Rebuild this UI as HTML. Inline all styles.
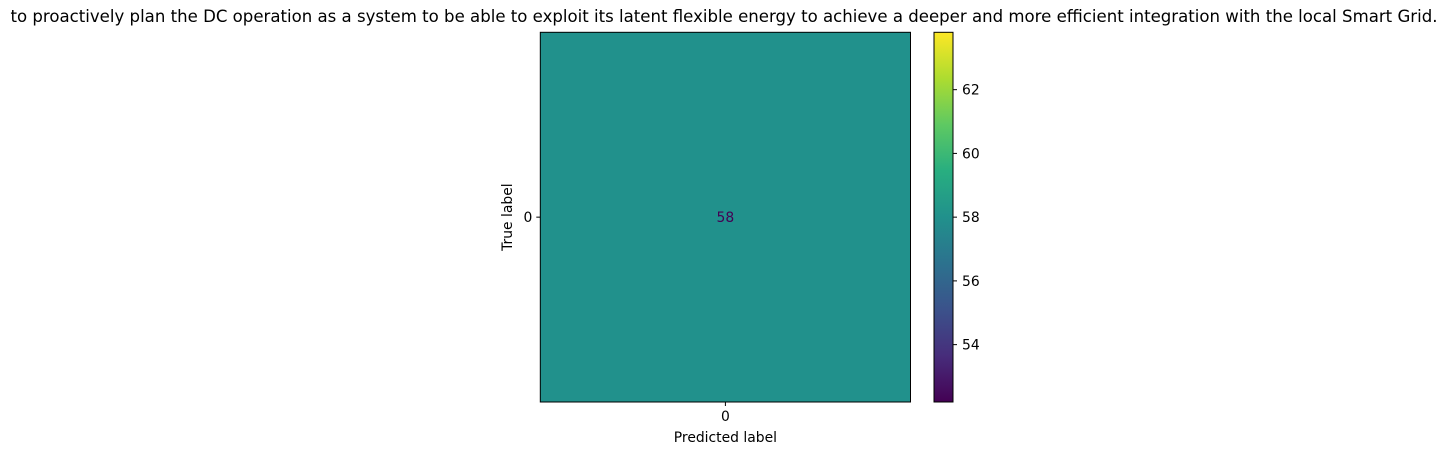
<!DOCTYPE html>
<html><head><meta charset="utf-8"><style>
body{margin:0;background:#fff;width:1449px;height:455px;overflow:hidden}
svg text{font-family:"DejaVu Sans","Liberation Sans",sans-serif;fill:#000}
</style></head><body>
<svg id="chart" width="1449" height="455" viewBox="0 0 1449 455" xmlns="http://www.w3.org/2000/svg">
<defs><linearGradient id="vir" x1="0" y1="1" x2="0" y2="0">
<stop offset="0" stop-color="#440154"/><stop offset="0.125" stop-color="#472d7b"/><stop offset="0.25" stop-color="#3b528b"/><stop offset="0.375" stop-color="#2c728e"/><stop offset="0.5" stop-color="#21918c"/><stop offset="0.625" stop-color="#28ae80"/><stop offset="0.75" stop-color="#5ec962"/><stop offset="0.875" stop-color="#addc30"/><stop offset="1" stop-color="#fde725"/></linearGradient></defs>
<text x="724" y="22" font-size="16.6" text-anchor="middle" textLength="1427" lengthAdjust="spacingAndGlyphs">to proactively plan the DC operation as a system to be able to exploit its latent flexible energy to achieve a deeper and more efficient integration with the local Smart Grid.</text>
<g id="plot"></g>
</svg>
<script>
const labels = ["0"];
const matrix = [[58]];
const cbTicks = [54, 56, 58, 60, 62];
const vmin = 52.2, vmax = 63.8;
const ns = "http://www.w3.org/2000/svg";
const g = document.getElementById('plot');
const L=540.3,R=910.5,T=32.3,B=402;
const FS=13.9;
const n = labels.length, cw=(R-L)/n, ch=(B-T)/n;
const stops=[[68,1,84],[71,45,123],[59,82,139],[44,114,142],[33,145,140],[40,174,128],[94,201,98],[173,220,48],[253,231,37]];
function cmap(v){let t=Math.max(0,Math.min(1,(v-vmin)/(vmax-vmin)))*8;let i=Math.min(7,Math.floor(t)),f=t-i;const a=stops[i],b=stops[i+1];return `rgb(${a.map((c,k)=>Math.round(c+(b[k]-c)*f)).join(',')})`;}
function mk(tag,attrs,txt){const e=document.createElementNS(ns,tag);for(const k in attrs)e.setAttribute(k,attrs[k]);if(txt!==undefined)e.textContent=txt;g.appendChild(e);return e;}
matrix.forEach((row,i)=>row.forEach((v,j)=>{
  const r=mk('rect',{x:L+j*cw,y:T+i*ch,width:cw,height:ch,fill:cmap(v)});
  
  
  const t=mk('text',{x:L+(j+0.5)*cw,y:T+(i+0.5)*ch+5,'font-size':FS,'text-anchor':'middle',style:'fill:#440154'},v);
  
  
}));
const fr=mk('rect',{x:L,y:T,width:R-L,height:B-T,fill:'none',stroke:'#000','stroke-width':1});


labels.forEach((lab,j)=>{
  const x=L+(j+0.5)*cw;
  mk('line',{x1:x,y1:B,x2:x,y2:B+4,stroke:'#000'});
  const t=mk('text',{x:x,y:B+19,'font-size':FS,'text-anchor':'middle'},lab);
  
  
  const y=T+(j+0.5)*ch;
  mk('line',{x1:L-4,y1:y,x2:L,y2:y,stroke:'#000'});
  const t2=mk('text',{x:L-8,y:y+5,'font-size':FS,'text-anchor':'end'},lab);
  
  
});
const xl=mk('text',{x:(L+R)/2,y:442,'font-size':FS,'text-anchor':'middle'},'Predicted label');


const yl=mk('text',{x:0,y:0,'font-size':FS,'text-anchor':'middle',transform:`translate(512,${(T+B)/2}) rotate(-90)`},'True label');


const CL=934,CR=953;
const cb=mk('rect',{x:CL,y:T,width:CR-CL,height:B-T,fill:'url(#vir)',stroke:'#000','stroke-width':1});


cbTicks.forEach(v=>{
  const y=B-(v-vmin)/(vmax-vmin)*(B-T);
  mk('line',{x1:CR,y1:y,x2:CR+4,y2:y,stroke:'#000'});
  const t=mk('text',{x:CR+9,y:y+5,'font-size':FS},v);
  
  
});
</script>
</body></html>
